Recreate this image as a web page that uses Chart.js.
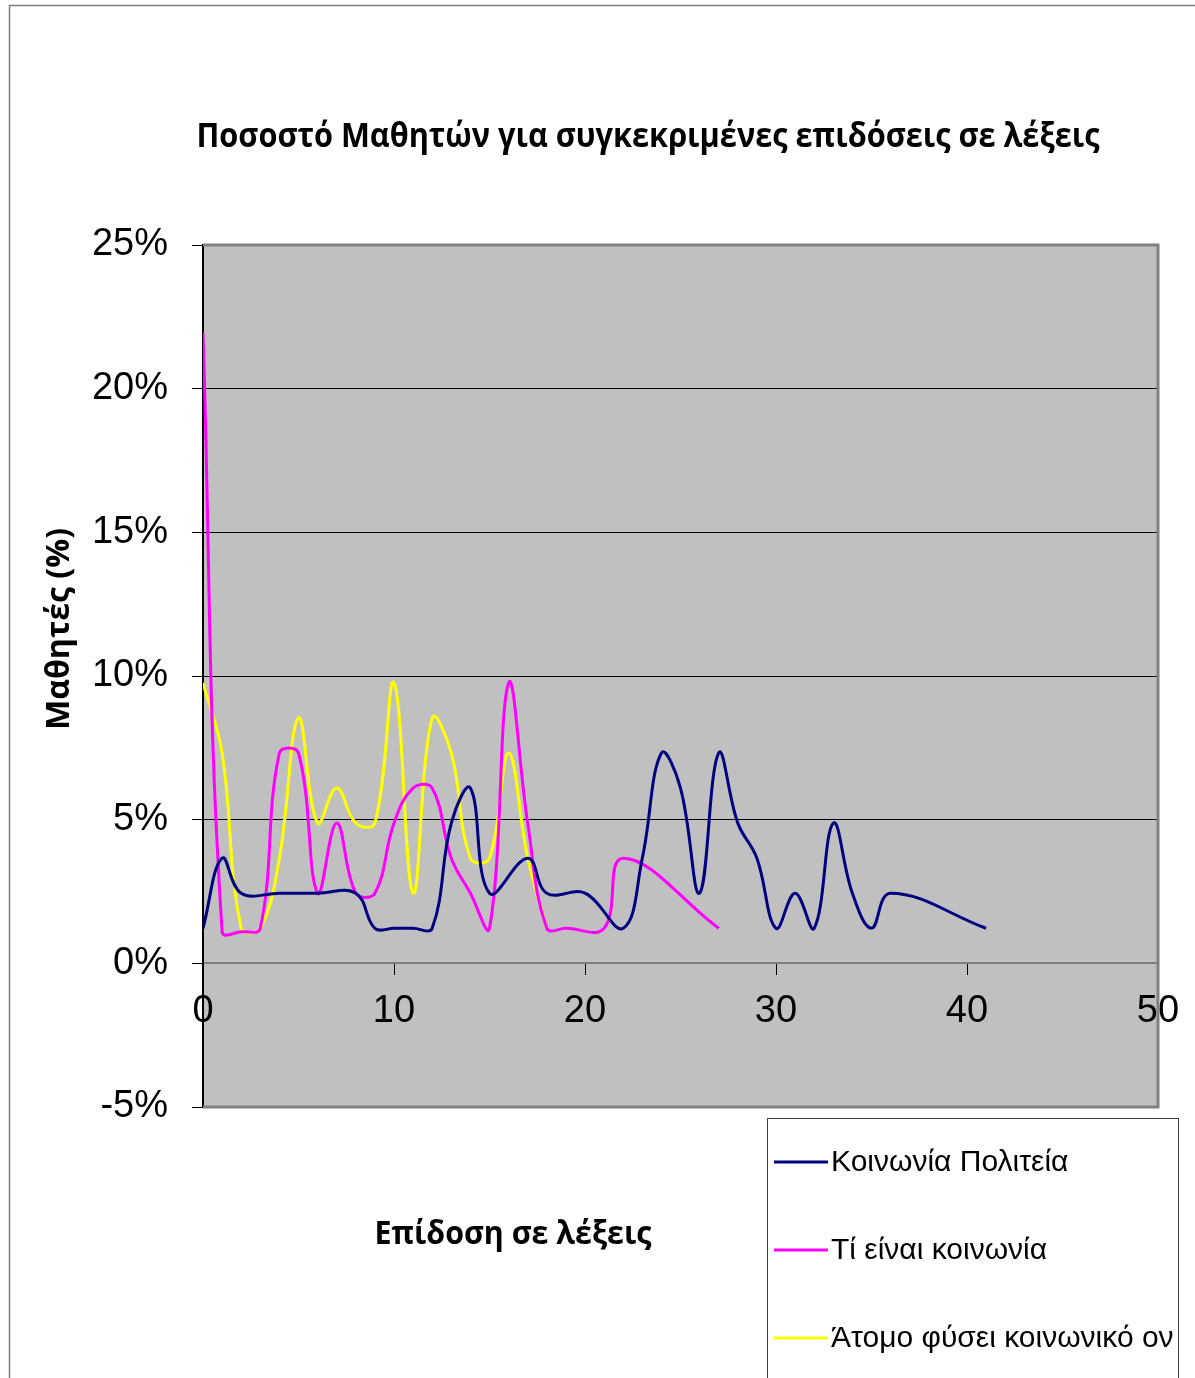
<!DOCTYPE html>
<html>
<head>
<meta charset="utf-8">
<script src="https://cdn.jsdelivr.net/npm/chart.js@4.4.0/dist/chart.umd.min.js"></script>
<style>
  body { margin: 0; background: #fff; }
</style>
</head>
<body>
<canvas id="myChart" width="1195" height="1378"></canvas>
<script>
let chartTitle = "Ποσοστό Μαθητών για συγκεκριμένες επιδόσεις σε λέξεις";
let xTitle = "Επίδοση σε λέξεις";
let yTitle = "Μαθητές (%)";
let seriesNames = ["Κοινωνία Πολιτεία", "Τί είναι κοινωνία", "Άτομο φύσει κοινωνικό ον"];
let seriesColors = ["#000080", "#ff00ff", "#ffff00"];

// words (x) and percent of students (y) for each text
let politeiaWords = [0, 1, 2, 4, 6, 8, 9, 10, 11, 12, 13, 14, 15, 17, 18, 20, 22, 23, 24, 25, 26, 27, 28, 29, 30, 31, 32, 33, 34, 35, 36, 41];
let politeiaPct = [1.22, 3.66, 2.44, 2.44, 2.44, 2.44, 1.22, 1.22, 1.22, 1.22, 4.88, 6.1, 2.44, 3.66, 2.44, 2.44, 1.22, 3.66, 7.32, 6.1, 2.44, 7.32, 4.88, 3.66, 1.22, 2.44, 1.22, 4.88, 2.44, 1.22, 2.44, 1.22];

let koinoniaWords = [0, 1, 2, 3, 4, 5, 6, 7, 8, 9, 10, 11, 12, 13, 14, 15, 16, 17, 18, 19, 21, 22, 27];
let koinoniaPct = [21.95, 1.1, 1.1, 1.22, 7.32, 7.32, 2.44, 4.88, 2.44, 2.44, 4.88, 6.1, 6.1, 3.66, 2.44, 1.22, 9.76, 4.88, 1.22, 1.22, 1.22, 3.66, 1.22];

let atomoWords = [0, 1, 2, 3, 4, 5, 6, 7, 8, 9, 10, 11, 12, 13, 14, 15, 16, 17, 18];
let atomoPct = [9.76, 7.32, 1.22, 1.22, 3.66, 8.54, 4.88, 6.1, 4.88, 4.88, 9.76, 2.44, 8.54, 7.32, 3.66, 3.66, 7.32, 3.66, 1.22];

let xTicks = [0, 10, 20, 30, 40, 50];
let yTicks = [-5, 0, 5, 10, 15, 20, 25];

let toPoints = (xs, ys) => xs.map((x, i) => ({ x: x, y: ys[i] }));

// draws text at a given size, squeezed to the wanted width
let drawFitted = (ctx, text, x, y, width, size, rotate) => {
  ctx.save();
  ctx.font = "bold " + size + "px 'Open Sans'";
  let w = ctx.measureText(text).width;
  ctx.translate(x, y);
  if (rotate) ctx.rotate(-Math.PI / 2);
  ctx.scale(width / w, 1);
  ctx.fillText(text, 0, 0);
  ctx.restore();
};

let excelLook = {
  id: "excelLook",
  beforeDraw(chart) {
    let ctx = chart.ctx;
    let a = chart.chartArea;
    ctx.save();
    ctx.fillStyle = "#ffffff";
    ctx.fillRect(0, 0, chart.width, chart.height);
    ctx.strokeStyle = "#808080";
    ctx.lineWidth = 1.5;
    ctx.strokeRect(9.5, 5.5, 1400, 1600);
    ctx.fillStyle = "#c0c0c0";
    ctx.fillRect(a.left, a.top, a.right - a.left, a.bottom - a.top);
    ctx.restore();
  },
  afterDatasetsDraw(chart) {
    let ctx = chart.ctx;
    let a = chart.chartArea;
    ctx.save();
    ctx.strokeStyle = "#808080";
    ctx.lineWidth = 3;
    ctx.beginPath();
    ctx.moveTo(a.left, a.top);
    ctx.lineTo(a.right, a.top);
    ctx.lineTo(a.right, a.bottom);
    ctx.lineTo(a.left, a.bottom);
    ctx.stroke();
    ctx.restore();
  },
  afterDraw(chart) {
    let ctx = chart.ctx;
    ctx.save();
    ctx.fillStyle = "#000";
    ctx.textAlign = "center";
    ctx.textBaseline = "middle";

    drawFitted(ctx, chartTitle, 648, 137, 903, 34, false);
    drawFitted(ctx, xTitle, 513, 1235, 277, 33, false);
    drawFitted(ctx, yTitle, 60, 629, 202, 32, true);

    // legend box
    ctx.strokeStyle = "#404040";
    ctx.lineWidth = 1;
    ctx.strokeRect(767.5, 1118.5, 411, 400);
    ctx.textAlign = "left";
    ctx.font = "30px 'Liberation Sans', Arial";
    chart.data.datasets.forEach((ds, i) => {
      let y = 1162 + i * 88;
      ctx.strokeStyle = ds.borderColor;
      ctx.lineWidth = 3;
      ctx.beginPath();
      ctx.moveTo(774, y);
      ctx.lineTo(828, y);
      ctx.stroke();
      ctx.fillStyle = "#000";
      ctx.fillText(ds.label, 831, y + 1);
    });
    ctx.restore();
  }
};

let myChart = document.getElementById("myChart").getContext("2d");

let allWords = [politeiaWords, koinoniaWords, atomoWords];
let allPct = [politeiaPct, koinoniaPct, atomoPct];

let massChart = new Chart(myChart, {
  type: "scatter",
  data: {
    datasets: seriesNames.map((name, i) => ({
      label: name,
      data: toPoints(allWords[i], allPct[i]),
      showLine: true,
      borderColor: seriesColors[i],
      backgroundColor: seriesColors[i],
      borderWidth: 3,
      pointRadius: 0,
      tension: 0.4,
    })),
  },
  options: {
    responsive: false,
    animation: false,
    layout: {
      padding: { left: 10, top: 245, right: 37, bottom: 271 },
    },
    plugins: {
      legend: { display: false },
      tooltip: { enabled: false },
      title: { display: false },
    },
    scales: {
      x: {
        type: "linear",
        position: { y: 0 },
        min: 0,
        max: 50,
        afterBuildTicks: (s) => { s.ticks = xTicks.map((v) => ({ value: v })); },
        border: { color: "#808080", width: 2 },
        grid: { drawOnChartArea: false, drawTicks: true, tickLength: 11, color: "#000" },
        ticks: {
          padding: 14,
          maxRotation: 0,
          color: "#000",
          font: { family: "'Liberation Sans', Arial", size: 38 },
        },
      },
      y: {
        type: "linear",
        min: -5,
        max: 25,
        afterFit: (s) => { s.width = 193; },
        afterBuildTicks: (s) => { s.ticks = yTicks.map((v) => ({ value: v })); },
        border: { color: "#000", width: 2 },
        grid: { color: "#000", lineWidth: 1, tickLength: 11 },
        ticks: {
          padding: 24,
          color: "#000",
          font: { family: "'Liberation Sans', Arial", size: 38 },
          callback: (v) => v + "%",
        },
      },
    },
  },
  plugins: [excelLook],
});
</script>
</body>
</html>
